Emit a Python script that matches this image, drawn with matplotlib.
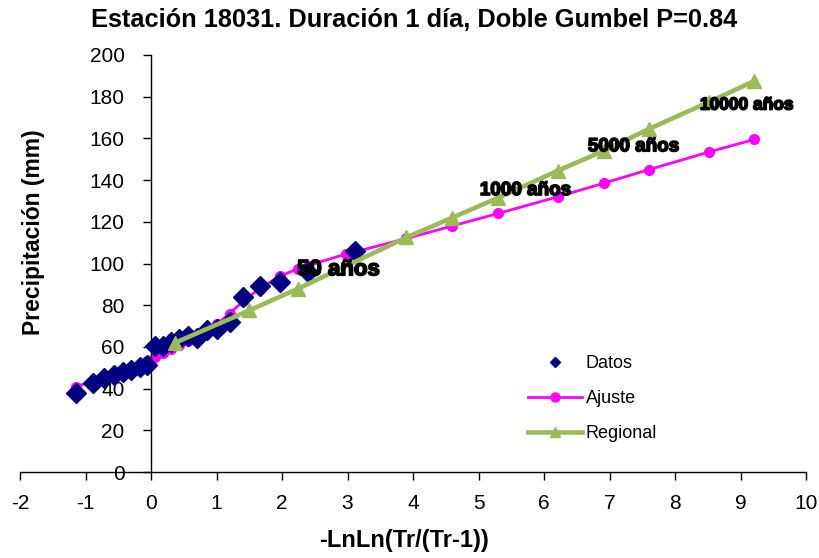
import matplotlib
matplotlib.use("Agg")
import matplotlib.pyplot as plt
import matplotlib.patheffects as pe

plt.rcParams["axes.unicode_minus"] = False

# ─── Data ───
datos_x = [-1.14, -0.89, -0.71, -0.56, -0.42, -0.30, -0.17, -0.06, 0.06, 0.18, 0.30,
           0.43, 0.56, 0.70, 0.85, 1.01, 1.20, 1.41, 1.66, 1.97, 2.40, 3.11]
datos_y = [38, 42.5, 45, 46.5, 48, 49, 50.5, 51.5, 60.5, 60.5, 62.5,
           64, 65, 64.5, 68, 68.5, 72, 84, 89, 91, 96, 106]

ajuste_x = [-1.14, -0.89, -0.71, -0.56, -0.42, -0.30, -0.17, -0.06, 0.06, 0.18, 0.30,
            0.43, 0.56, 0.70, 0.85, 1.01, 1.20, 1.41, 1.66, 1.97, 2.25, 2.40, 2.97,
            3.11, 3.90, 4.60, 5.30, 6.21, 6.91, 7.60, 8.52, 9.21]
ajuste_y = [41, 43.5, 45.5, 47, 48.5, 50, 51.5, 53, 55, 57, 59,
            61, 63, 65.5, 68, 71, 76, 82, 88, 94, 97.5, 99, 104.5,
            105.5, 112, 118, 124, 132, 138.5, 145, 153.5, 159.5]

regional_x = [0.37, 1.50, 2.25, 3.90, 4.60, 5.30, 6.21, 6.91, 7.60, 8.52, 9.21]
regional_y = [62, 77.5, 88, 112.5, 122, 131.5, 144.5, 154, 164.5, 177.5, 187.5]

etiquetas = ["50 años", "1000 años", "5000 años", "10000 años"]
etiq_x = [2.23, 5.02, 6.67, 8.38]
etiq_y = [97, 135, 156, 176]
etiq_size = [16, 13.6, 13.6, 12.5]

W, H = 819, 558
fig = plt.figure(figsize=(W / 100, H / 100), dpi=100)
fig.patch.set_facecolor("white")

# axes box: x -2..10 -> px 20..806, y 0..200 -> px 472..55
ax = fig.add_axes([20 / W, 1 - 472 / H, (806 - 20) / W, (472 - 55) / H])
ax.set_xlim(-2, 10)
ax.set_ylim(0, 200)

ax.spines["left"].set_position(("data", 0))
ax.spines["bottom"].set_position(("data", 0))
ax.spines["top"].set_visible(False)
ax.spines["right"].set_visible(False)
for s in ("left", "bottom"):
    ax.spines[s].set_linewidth(1.0)

ax.set_xticks(range(-2, 11))
ax.set_yticks(range(0, 201, 20))
ax.tick_params(axis="x", direction="out", length=6, width=1, pad=10, labelsize=15)
ax.tick_params(axis="y", direction="out", length=6, width=1, pad=13, labelsize=15)
for lab in ax.get_xticklabels() + ax.get_yticklabels():
    lab.set_family(["Liberation Sans"])

# series (magenta under diamonds, green on top)
ax.plot(ajuste_x, ajuste_y, "-o", color="#FF00FF", lw=2.0, markersize=7,
        label="Ajuste", zorder=2)
ax.plot(datos_x, datos_y, "D", color="#000080", markersize=10, linestyle="none",
        label="Datos", zorder=3)
ax.plot(regional_x, regional_y, "-^", color="#9BBB59", lw=3.3, markersize=10,
        label="Regional", zorder=4)

for t, x, y, fs in zip(etiquetas, etiq_x, etiq_y, etiq_size):
    ax.text(x, y, t, ha="left", va="center", fontsize=fs, fontweight="bold",
            family=["Liberation Sans"], color="black", zorder=6,
            path_effects=[pe.withStroke(linewidth=1.2, foreground="black")])

handles, labels = ax.get_legend_handles_labels()
order = [1, 0, 2]
leg = fig.legend([handles[i] for i in order], [labels[i] for i in order],
                 loc="upper left", bbox_to_anchor=(528 / W, 1 - 355 / H),
                 frameon=False, handlelength=3.0, handletextpad=0.2,
                 labelspacing=1.0, borderpad=0, borderaxespad=0,
                 prop={"family": "Liberation Sans", "size": 13})
for h, ms in zip(leg.legend_handles, [5.5, 6.5, 7.5]):
    h.set_markersize(ms)

fig.text(414 / W, 1 - 20 / H, "Estación 18031. Duración 1 día, Doble Gumbel P=0.84",
         ha="center", va="center", fontsize=18.3, fontweight="bold",
         family=["Liberation Sans"])
fig.text(34 / W, 1 - 232 / H, "Precipitación (mm)", rotation=90, ha="center",
         va="center", fontsize=16.5, fontweight="bold", family=["Liberation Sans"])
fig.text(404 / W, 1 - 540 / H, "-LnLn(Tr/(Tr-1))", ha="center", va="center",
         fontsize=17, fontweight="bold", family=["Liberation Sans"])

fig.savefig("out.png", dpi=100, facecolor="white")
plt.close(fig)
